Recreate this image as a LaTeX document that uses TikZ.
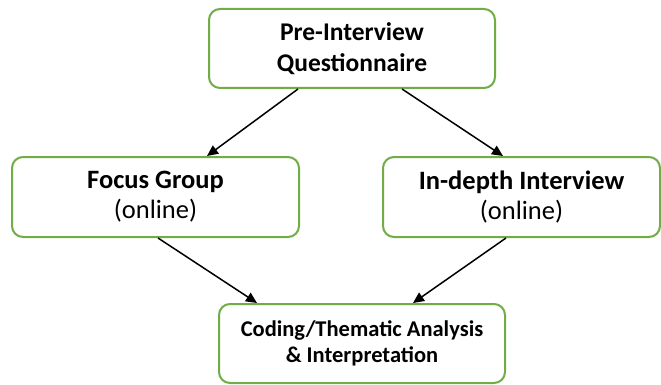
\documentclass[tikz,border=0pt]{standalone}
\usepackage{fontspec}
\setmainfont{Carlito}
\usetikzlibrary{arrows.meta,calc}
\definecolor{boxgreen}{RGB}{112,173,71}
\tikzset{
  flowbox/.style={draw=boxgreen, line width=2pt, rounded corners=11pt, fill=white,
    align=center, inner sep=0pt, text=black},
  flowarrow/.style={draw=black, line width=1.5pt, -{Triangle[length=11pt,width=10pt]}}
}
\begin{document}
\begin{tikzpicture}[x=1pt,y=-1pt]
\useasboundingbox (0,0) rectangle (661,385);
\node[flowbox, minimum width=286pt, minimum height=79pt,
  font=\fontsize{25.5}{31}\selectfont\bfseries] (pre) at (352,48.5)
  {Pre-Interview\\Questionnaire};
\node[flowbox, minimum width=287pt, minimum height=80pt,
  font=\fontsize{26.5}{30}\selectfont] (focus) at (155.5,197)
  {\textbf{Focus Group}\\(online)};
\node[flowbox, minimum width=277pt, minimum height=80pt,
  font=\fontsize{26.5}{30}\selectfont] (indepth) at (521.5,197)
  {\textbf{In-depth Interview}\\(online)};
\node[flowbox, minimum width=286pt, minimum height=79pt,
  font=\fontsize{22.5}{26}\selectfont\bfseries] (coding) at (362,343.5)
  {Coding/Thematic Analysis\\\& Interpretation};
\draw[flowarrow] ($(pre.south)+(-54,0)$) -- ($(focus.north)+(51.5,0)$);
\draw[flowarrow] ($(pre.south)+(50,0)$) -- ($(indepth.north)+(-18.5,0)$);
\draw[flowarrow] ($(focus.south)+(2.5,0)$) -- ($(coding.north)+(-105,0)$);
\draw[flowarrow] ($(indepth.south)+(-15.5,0)$) -- ($(coding.north)+(51,0)$);
\end{tikzpicture}
\end{document}
